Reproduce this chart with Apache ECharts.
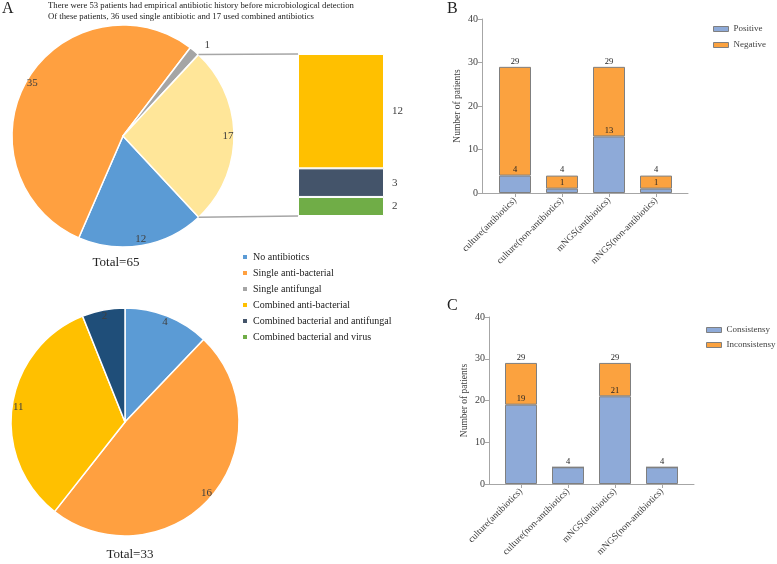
<!DOCTYPE html>
<html>
<head>
    <meta charset="UTF-8">
    <title>Antibiotic history and detection</title>
    <style>
        html, body { margin: 0; padding: 0; background: #fff; }
        #box { width: 777px; height: 564px; }
    </style>
    <script src="https://cdn.jsdelivr.net/npm/echarts@6/dist/echarts.min.js"></script>
</head>
<body>
<div id="box"></div>
<script>
    // ---- data ----
    var pie1Names = ['No antibiotics', 'Single anti-bacterial', 'Single antifungal', 'Combined antibiotics'];
    var pie1Values = [12, 35, 1, 17];
    var comboNames = ['Combined bacterial and virus', 'Combined bacterial and antifungal', 'Combined anti-bacterial'];
    var comboValues = [2, 3, 12];
    var pie2Names = ['No antibiotics', 'Single anti-bacterial', 'Combined anti-bacterial', 'Combined bacterial and antifungal'];
    var pie2Values = [4, 16, 11, 2];
    var groups = ['culture(antibiotics)', 'culture(non-antibiotics)', 'mNGS(antibiotics)', 'mNGS(non-antibiotics)'];
    var positive = [4, 1, 13, 1];
    var negative = [25, 3, 16, 3];
    var consistent = [19, 4, 21, 4];
    var inconsistent = [10, 0, 8, 0];
    var yMax = 40, yStep = 10;

    var legendNames = ['No antibiotics', 'Single anti-bacterial', 'Single antifungal',
        'Combined anti-bacterial', 'Combined bacterial and antifungal', 'Combined bacterial and virus'];

    // ---- styles ----
    var font = 'Liberation Serif';
    var txt = '#404040';
    var axisGray = '#A6A6A6';
    var pie1Colors = ['#5B9BD5', '#FFA040', '#A5A5A5', '#FFE699'];
    var comboColors = ['#70AD47', '#44546A', '#FFC000'];
    var pie2Colors = ['#5B9BD5', '#FFA040', '#FFC000', '#1F4E79'];
    var legendColors = ['#5B9BD5', '#FFA040', '#A5A5A5', '#FFC000', '#44546A', '#70AD47'];
    var barBlue = '#8EAAD8', barOrange = '#FBA23F', barEdge = '#7F7F7F';

    var pie1 = { center: [123, 136], r: 111, start: -47 };
    var pie2 = { center: [125, 422], r: 114, start: 90 };
    var comboGrid = { left: 298, top: 54, width: 86, height: 162 };

    function sum(a) { return a.reduce(function (s, v) { return s + v; }, 0); }

    function pieData(names, values, colors) {
        return names.map(function (n, i) {
            return { name: n, value: values[i], itemStyle: { color: colors[i] } };
        });
    }

    // transparent ring so the labels sit near the outer edge
    function labelRing(names, values, center, r, start, outsideIdx) {
        return {
            type: 'pie', center: center, radius: [r * 0.84, r], startAngle: start,
            silent: true, z: 5,
            itemStyle: { color: 'rgba(0,0,0,0)', borderWidth: 0 },
            label: { show: true, position: 'inside', formatter: '{c}', fontFamily: font, fontSize: 11, color: txt },
            labelLine: { show: false },
            emphasis: { disabled: true },
            data: names.map(function (n, i) {
                var d = { name: n + ' ', value: values[i] };
                if (i === outsideIdx) {
                    d.label = { position: 'outside' };
                    d.labelLine = { show: false, length: 8, length2: 0 };
                }
                return d;
            })
        };
    }

    function valueLabel(formatter) {
        return { show: true, position: 'top', distance: 1, fontFamily: font, fontSize: 8.5, color: '#222', formatter: formatter };
    }

    function stackedPanel(idx, frame, lower, upper, names, colors) {
        var totals = lower.map(function (v, i) { return v + upper[i]; });
        var barLeft = frame.firstCenter - frame.step / 2;
        var grids = [
            { left: frame.left, top: frame.top, width: frame.width, height: frame.height },
            { left: barLeft, top: frame.top, width: frame.step * groups.length, height: frame.height }
        ];
        var xAxes = [
            { gridIndex: idx, type: 'value', min: 0, max: 1, axisLine: { show: true, lineStyle: { color: axisGray } },
              axisTick: { show: false }, axisLabel: { show: false }, splitLine: { show: false } },
            { gridIndex: idx + 1, type: 'category', data: groups, axisLine: { show: false },
              axisTick: { show: true, alignWithLabel: true, length: 4, lineStyle: { color: axisGray } },
              axisLabel: { rotate: 45, margin: 6, fontFamily: font, fontSize: 9.5, color: txt, interval: 0 } }
        ];
        var yAxes = [
            { gridIndex: idx, type: 'value', min: 0, max: yMax, interval: yStep,
              name: 'Number of patients', nameLocation: 'middle', nameGap: 20,
              nameTextStyle: { fontFamily: font, fontSize: 9.5, color: txt },
              axisLine: { show: true, lineStyle: { color: axisGray } },
              axisTick: { show: true, length: 4, lineStyle: { color: axisGray } },
              axisLabel: { fontFamily: font, fontSize: 10, color: txt, margin: 4 },
              splitLine: { show: false } },
            { gridIndex: idx + 1, type: 'value', min: 0, max: yMax, show: false, splitLine: { show: false } }
        ];
        var series = [
            { name: names[0], type: 'bar', stack: 's' + idx, xAxisIndex: idx + 1, yAxisIndex: idx + 1,
              barWidth: 32, data: lower,
              itemStyle: { color: colors[0], borderColor: barEdge, borderWidth: 1 },
              label: valueLabel(function (p) { return p.value; }) },
            { name: names[1], type: 'bar', stack: 's' + idx, xAxisIndex: idx + 1, yAxisIndex: idx + 1,
              barWidth: 32, data: upper,
              itemStyle: { color: colors[1], borderColor: barEdge, borderWidth: 1 },
              label: valueLabel(function (p) { return p.value > 0 ? totals[p.dataIndex] : ''; }) }
        ];
        return { grids: grids, xAxes: xAxes, yAxes: yAxes, series: series };
    }

    var panelB = stackedPanel(1, { left: 482, top: 19, width: 206, height: 174, firstCenter: 515, step: 47 },
        positive, negative, ['Positive', 'Negative'], [barBlue, barOrange]);
    var panelC = stackedPanel(3, { left: 489, top: 317, width: 205, height: 167, firstCenter: 521, step: 47 },
        consistent, inconsistent, ['Consistensy', 'Inconsistensy'], [barBlue, barOrange]);

    var comboSeries = comboNames.map(function (n, i) {
        return {
            name: n, type: 'bar', stack: 'combo', xAxisIndex: 0, yAxisIndex: 0, barWidth: comboGrid.width,
            data: [comboValues[i]],
            itemStyle: { color: comboColors[i], borderColor: '#fff', borderWidth: 1 },
            label: { show: true, position: 'right', distance: 8, fontFamily: font, fontSize: 11, color: txt }
        };
    });

    var option = {
        backgroundColor: '#fff',
        animation: false,
        textStyle: { fontFamily: font },
        grid: [comboGrid].concat(panelB.grids, panelC.grids),
        xAxis: [{ gridIndex: 0, type: 'category', data: ['combined'], show: false }].concat(panelB.xAxes, panelC.xAxes),
        yAxis: [{ gridIndex: 0, type: 'value', min: 0, max: sum(comboValues), show: false, splitLine: { show: false } }]
            .concat(panelB.yAxes, panelC.yAxes),
        legend: [
            { orient: 'vertical', left: 236, top: 246, itemWidth: 6, itemHeight: 6, itemGap: 4, icon: 'rect',
              textStyle: { fontFamily: font, fontSize: 10, color: '#222', lineHeight: 12 },
              data: legendNames.map(function (n, i) { return { name: n, itemStyle: { color: legendColors[i] } }; }) },
            { orient: 'vertical', left: 708, top: 18, itemWidth: 15, itemHeight: 5, itemGap: 4, icon: 'rect',
              itemStyle: { borderColor: barEdge, borderWidth: 1 },
              textStyle: { fontFamily: font, fontSize: 9, color: txt, lineHeight: 12 },
              data: ['Positive', 'Negative'] },
            { orient: 'vertical', left: 701, top: 319, itemWidth: 15, itemHeight: 5, itemGap: 3, icon: 'rect',
              itemStyle: { borderColor: barEdge, borderWidth: 1 },
              textStyle: { fontFamily: font, fontSize: 9, color: txt, lineHeight: 12 },
              data: ['Consistensy', 'Inconsistensy'] }
        ],
        series: [
            { type: 'pie', center: pie1.center, radius: pie1.r, startAngle: pie1.start, clockwise: true,
              itemStyle: { borderColor: '#fff', borderWidth: 1.5 }, label: { show: false }, labelLine: { show: false },
              data: pieData(pie1Names, pie1Values, pie1Colors) },
            labelRing(pie1Names, pie1Values, pie1.center, pie1.r, pie1.start, 2),
            { type: 'pie', center: pie2.center, radius: pie2.r, startAngle: pie2.start, clockwise: true,
              itemStyle: { borderColor: '#fff', borderWidth: 1.5 }, label: { show: false }, labelLine: { show: false },
              data: pieData(pie2Names, pie2Values, pie2Colors) },
            labelRing(pie2Names, pie2Values, pie2.center, pie2.r, pie2.start, -1)
        ].concat(comboSeries, panelB.series, panelC.series),
        graphic: [
            { id: 'tA', type: 'text', left: 2, top: 1, style: { text: 'A', font: '16px ' + font, fill: '#222' } },
            { id: 'tB', type: 'text', left: 447, top: 1, style: { text: 'B', font: '16px ' + font, fill: '#222' } },
            { id: 'tC', type: 'text', left: 447, top: 298, style: { text: 'C', font: '16px ' + font, fill: '#222' } },
            { id: 'h1', type: 'text', left: 48, top: 1, style: { text: 'There were 53 patients had empirical antibiotic history before microbiological detection', font: '8.7px ' + font, fill: '#222' } },
            { id: 'h2', type: 'text', left: 48, top: 12, style: { text: 'Of these patients, 36 used single antibiotic and 17 used combined antibiotics', font: '8.7px ' + font, fill: '#222' } },
            { id: 'tot1', type: 'text', x: 116, y: 263, style: { text: 'Total=' + sum(pie1Values), font: '13px ' + font, fill: '#222', align: 'center', verticalAlign: 'middle' } },
            { id: 'tot2', type: 'text', x: 130, y: 555, style: { text: 'Total=' + sum(pie2Values), font: '13px ' + font, fill: '#222', align: 'center', verticalAlign: 'middle' } }
        ]
    };

    var myChart = echarts.init(document.getElementById('box'));
    myChart.setOption(option);

    // connector lines from the combined slice to the stacked bar
    var total1 = sum(pie1Values);
    var before = sum(pie1Values.slice(0, 3));
    var aTop = (pie1.start - 360 * before / total1) * Math.PI / 180;
    var aBot = (pie1.start - 360) * Math.PI / 180;
    function edge(a) { return [pie1.center[0] + pie1.r * Math.cos(a), pie1.center[1] - pie1.r * Math.sin(a)]; }
    var barTop = myChart.convertToPixel({ xAxisIndex: 0, yAxisIndex: 0 }, ['combined', sum(comboValues)]);
    var barBot = myChart.convertToPixel({ xAxisIndex: 0, yAxisIndex: 0 }, ['combined', 0]);
    var barL = barTop[0] - comboGrid.width / 2;
    var p1 = edge(aTop), p2 = edge(aBot);
    myChart.setOption({
        graphic: [
            { id: 'c1', type: 'line', shape: { x1: p1[0], y1: p1[1], x2: barL, y2: barTop[1] }, style: { stroke: '#A6A6A6', lineWidth: 1.5 }, z: 10 },
            { id: 'c2', type: 'line', shape: { x1: p2[0], y1: p2[1], x2: barL, y2: barBot[1] }, style: { stroke: '#A6A6A6', lineWidth: 1.5 }, z: 10 }
        ]
    });
</script>
</body>
</html>
